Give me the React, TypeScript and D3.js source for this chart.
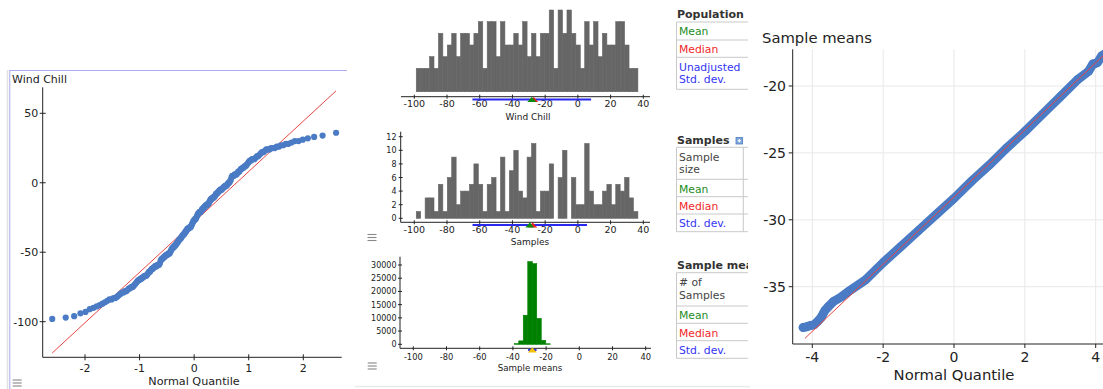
import React, { useEffect, useRef } from 'react';
import * as d3 from 'd3';

const windChill = [
  -98, -97, -96, -94, -93, -91, -90, -89, -88, -87, -86,
  -85, -84, -84, -83, -83, -82, -81, -80, -79, -79, -78, -78,
  -77, -76, -76, -75, -75, -74, -73, -72,
  -71, -70, -70, -69, -69, -68, -68, -67, -67, -67,
  -66, -65, -64, -64, -63, -62, -62, -61, -61,
  -60, -60, -60, -59, -59, -59, -58, -56,
  -55, -55, -54, -54, -53, -53, -52, -52, -52, -51, -51, -51,
  -50, -49, -48, -47, -47, -46, -46, -45, -45,
  -44, -43, -43, -42, -41, -41, -40, -40,
  -39, -38, -38, -37, -37, -36, -35, -35, -34,
  -33, -33, -33, -32, -32, -32, -31, -30, -29,
  -28, -27, -27, -26, -26, -25, -24, -23,
  -22, -22, -21, -21, -21, -20, -19, -19, -18, -18,
  -17, -17, -16, -16, -16, -15, -15, -14, -13,
  -12, -12, -11, -11, -11, -10, -10, -9, -8, -8, -7, -7,
  -6, -6, -5, -5, -5, -4, -4, -3, -3, -2, -2, -2,
  -1, 0, 0, 1, 2, 4, 5, 5, 5, 6, 6, 6,
  7, 8, 8, 9, 10, 10, 11, 11, 12, 12, 13, 14, 15,
  16, 16, 17, 17, 17, 18, 19, 19, 20, 21, 22, 22, 23,
  24, 24, 24, 25, 25, 25, 26, 26, 27, 27, 28, 28,
  29, 30, 30, 31, 32, 33, 34, 36
];

// bins shared by the three histograms
const BIN_START = -98.8;
const BIN_WIDTH = 2.71;
const BIN_COUNT = 50;

// one resample, counts per bin
const sampleCounts = [
  1, 0, 3, 3, 1, 5, 1, 6, 9, 2,
  4, 4, 5, 8, 5, 1, 5, 6, 1, 9,
  1, 7, 10, 4, 3, 9, 11, 1, 4, 4,
  8, 0, 6, 10, 0, 6, 2, 2, 11, 4,
  2, 2, 4, 5, 2, 5, 4, 6, 3, 1
];
const sampleMean = -29.4;
const sampleMedian = -27.6;
const sampleSD = 35.0;

// sample means, counts per bin
const meanCounts = [
  0, 0, 0, 0, 0, 0, 0, 0, 0, 0,
  0, 0, 0, 0, 0, 0, 0, 0, 0, 0,
  0, 0, 250, 1300, 11000, 31300, 30500, 9800, 1500, 200,
  0, 0, 0, 0, 0, 0, 0, 0, 0, 0,
  0, 0, 0, 0, 0, 0, 0, 0, 0, 0
];
const meansMean = -28.3;
const meansSD = 2.51;

// normal quantile plot of the sample means
const smQuantile = [-4.26, -4.17, -4.05, -3.95, -3.85, -3.75, -3.65, -3.55, -3.4, -3.2, -3.0, -2.5, -2.0, -1.5, -1.0, -0.5, 0, 0.5, 1.0, 1.5, 2.0, 2.5, 3.0, 3.5, 3.8, 3.92, 4.0, 4.05, 4.17, 4.26];
const smValue = [-38.05, -38.0, -37.9, -37.85, -37.6, -37.3, -36.8, -36.5, -36.1, -35.8, -35.4, -34.5, -33.2, -32.0, -30.8, -29.6, -28.4, -27.1, -25.9, -24.6, -23.4, -22.1, -20.8, -19.5, -18.9, -18.35, -18.3, -18.25, -17.75, -17.6];

const histTicks = [-100, -80, -60, -40, -20, 0, 20, 40];
const sampleYTicks = [0, 2, 4, 6, 8, 10, 12];
const meanYTicks = [0, 5000, 10000, 15000, 20000, 25000, 30000];
const leftXTicks = [-2, -1, 0, 1, 2];
const leftYTicks = [-100, -50, 0, 50];
const rightXTicks = [-4, -2, 0, 2, 4];
const rightYTicks = [-35, -30, -25, -20];

const FONT = '"DejaVu Sans", Verdana, sans-serif';
const BLUE_DOT = '#4a7bc4';

// inverse of the standard normal cdf (Acklam)
function qnorm(p: number) {
  const a = [-39.69683028665376, 220.9460984245205, -275.9285104469687, 138.3577518672690, -30.66479806614716, 2.506628277459239];
  const b = [-54.47609879822406, 161.5858368580409, -155.6989798598866, 66.80131188771972, -13.28068155833013];
  const c = [-0.007784894002430293, -0.3223964580411365, -2.400758277161838, -2.549732539343734, 4.374664141464968, 2.938163982698783];
  const d = [0.007784695709041462, 0.3224671290700398, 2.445134137142996, 3.754408661907416];
  const lo = 0.02425;
  if (p < lo) {
    const q = Math.sqrt(-2 * Math.log(p));
    return (((((c[0] * q + c[1]) * q + c[2]) * q + c[3]) * q + c[4]) * q + c[5]) / ((((d[0] * q + d[1]) * q + d[2]) * q + d[3]) * q + 1);
  }
  if (p > 1 - lo) return -qnorm(1 - p);
  const q = p - 0.5;
  const r = q * q;
  return (((((a[0] * r + a[1]) * r + a[2]) * r + a[3]) * r + a[4]) * r + a[5]) * q / (((((b[0] * r + b[1]) * r + b[2]) * r + b[3]) * r + b[4]) * r + 1);
}

const App = () => {
  const svgRef = useRef<SVGSVGElement>(null);

  useEffect(() => {
    const svg = d3.select(svgRef.current);
    svg.selectAll('*').remove();

    const edges = d3.range(1, BIN_COUNT).map(k => BIN_START + BIN_WIDTH * k);
    const binLo = (i: number) => BIN_START + BIN_WIDTH * i;
    const popBins = d3.bin().domain([BIN_START, BIN_START + BIN_WIDTH * BIN_COUNT]).thresholds(edges)(windChill);
    const popMean = d3.mean(windChill) as number;
    const popMedian = d3.median(windChill) as number;
    const popSD = Math.sqrt(d3.mean(windChill, v => (v - popMean) ** 2) as number);

    const txt = (g: any, x: number, y: number, s: string, size: number, opts: any = {}) =>
      g.append('text')
        .attr('x', x).attr('y', y)
        .attr('font-family', FONT)
        .attr('font-size', size)
        .attr('font-weight', opts.bold ? 'bold' : null)
        .attr('text-anchor', opts.anchor || 'start')
        .attr('fill', opts.fill || '#222')
        .text(s);

    const hline = (g: any, x1: number, x2: number, y: number, color = '#222', w = 1) =>
      g.append('line').attr('x1', x1).attr('x2', x2).attr('y1', y).attr('y2', y).attr('stroke', color).attr('stroke-width', w);
    const vline = (g: any, x: number, y1: number, y2: number, color = '#222', w = 1) =>
      g.append('line').attr('x1', x).attr('x2', x).attr('y1', y1).attr('y2', y2).attr('stroke', color).attr('stroke-width', w);

    const burger = (x: number, y: number) => {
      for (let i = 0; i < 3; i++) hline(svg, x, x + 9, y + i * 3, '#888', 1.1);
    };

    // ---------- left panel: wind chill normal quantile plot ----------
    const left = svg.append('g');
    vline(left, 7.5, 70, 389, '#e2e2e2', 1.5);
    vline(left, 9.8, 70, 389, '#aaaaee', 1);
    hline(left, 9.8, 347, 70.5, '#aaaaee', 1);
    txt(left, 12, 82.5, 'Wind Chill', 11);

    const xL = d3.scaleLinear().domain([-2, 2]).range([85, 303.3]);
    const yL = d3.scaleLinear().domain([-100, 50]).range([321.7, 113.3]);
    const axL = { x0: 42.7, x1: 341.7, y0: 87.3, y1: 357.3 };

    const n = windChill.length;
    const sorted = windChill.slice().sort((a, b) => a - b);
    const qq = sorted.map((v, i) => ({ q: qnorm((i + 1) / (n + 1)), v }));

    left.append('line')
      .attr('x1', xL(qq[0].q)).attr('y1', yL(popMean + popSD * qq[0].q))
      .attr('x2', xL(qq[n - 1].q)).attr('y2', yL(popMean + popSD * qq[n - 1].q))
      .attr('stroke', '#e84545').attr('stroke-width', 1);

    left.selectAll('.pt').data(qq).enter().append('circle')
      .attr('cx', d => xL(d.q)).attr('cy', d => yL(d.v)).attr('r', 3.1)
      .attr('fill', BLUE_DOT);

    vline(left, axL.x0, axL.y0, axL.y1);
    hline(left, axL.x0, axL.x1, axL.y1);
    leftYTicks.forEach(t => {
      hline(left, axL.x0 - 3, axL.x0 + 3, yL(t));
      txt(left, 38.3, yL(t) + 4, String(t), 11, { anchor: 'end' });
    });
    leftXTicks.forEach(t => {
      vline(left, xL(t), axL.y1 - 3, axL.y1 + 3);
      txt(left, xL(t), 371.5, String(t), 11, { anchor: 'middle' });
    });
    txt(left, 194, 385, 'Normal Quantile', 11.2, { anchor: 'middle' });
    burger(12.7, 380);

    // ---------- middle: three histograms ----------
    const histAxis = (g: any, x: any, y: number, xa: number, xb: number, labelY: number, size: number) => {
      hline(g, xa, xb, y);
      histTicks.forEach(t => {
        vline(g, x(t), y - 2, y + 2);
        txt(g, x(t), labelY, String(t), size, { anchor: 'middle' });
      });
    };
    const markers = (g: any, x: any, y: number, mean: number, median: number | null, sd: number, meanColor: string) => {
      g.append('rect')
        .attr('x', x(mean - sd)).attr('width', x(mean + sd) - x(mean - sd))
        .attr('y', y - 1).attr('height', 2).attr('fill', '#2a2aee');
      const tri = (cx: number, color: string) =>
        g.append('path')
          .attr('d', `M${cx - 4.5},${y + 2.5}L${cx},${y - 2.5}L${cx + 4.5},${y + 2.5}Z`)
          .attr('fill', color);
      if (median !== null) tri(x(median), '#e82020');
      tri(x(mean), meanColor);
    };
    const bars = (sel: any, fill: string) =>
      sel.attr('fill', fill).attr('stroke', fill).attr('stroke-width', 0.6);

    // population histogram
    const mid = svg.append('g');
    const xTop = d3.scaleLinear().domain([-100, 40]).range([414.3, 643.3]);
    const yTop = d3.scaleLinear().domain([0, 7]).range([91.7, 10]);
    bars(mid.selectAll('.pop').data(popBins.filter(b => b.length > 0)).enter().append('rect')
      .attr('x', (d: any) => xTop(d.x0)).attr('width', (d: any) => xTop(d.x1) - xTop(d.x0))
      .attr('y', (d: any) => yTop(d.length)).attr('height', (d: any) => yTop(0) - yTop(d.length)), '#666');
    histAxis(mid, xTop, 96.7, 401, 650, 107.3, 9.5);
    markers(mid, xTop, 99.5, popMean, popMedian, popSD, '#0a8a0a');
    txt(mid, 528, 120, 'Wind Chill', 9, { anchor: 'middle' });

    // one sample histogram
    const xS = d3.scaleLinear().domain([-100, 40]).range([414.3, 643.3]);
    const yS = d3.scaleLinear().domain([0, 12]).range([218.3, 136.7]);
    const sIdx = sampleCounts.map((c, i) => i).filter(i => sampleCounts[i] > 0);
    bars(mid.selectAll('.smp').data(sIdx).enter().append('rect')
      .attr('x', (i: number) => xS(binLo(i))).attr('width', (i: number) => xS(binLo(i + 1)) - xS(binLo(i)))
      .attr('y', (i: number) => yS(sampleCounts[i])).attr('height', (i: number) => yS(0) - yS(sampleCounts[i])), '#666');
    histAxis(mid, xS, 222.3, 400.7, 650, 233.3, 9.5);
    vline(mid, 400.7, 131.7, 222.3);
    sampleYTicks.forEach(t => {
      hline(mid, 398.7, 402.7, yS(t));
      txt(mid, 396.5, yS(t) + 3, String(t), 8, { anchor: 'end' });
    });
    markers(mid, xS, 225, sampleMean, sampleMedian, sampleSD, '#0a8a0a');
    txt(mid, 530, 245, 'Samples', 9, { anchor: 'middle' });
    burger(367.5, 234.5);

    // sample means histogram
    const xB = d3.scaleLinear().domain([-100, 40]).range([413.3, 645.7]);
    const yB = d3.scaleLinear().domain([0, 30000]).range([344.3, 265]);
    const mIdx = meanCounts.map((c, i) => i).filter(i => meanCounts[i] > 0);
    bars(mid.selectAll('.mns').data(mIdx).enter().append('rect')
      .attr('x', (i: number) => xB(binLo(i))).attr('width', (i: number) => xB(binLo(i + 1)) - xB(binLo(i)))
      .attr('y', (i: number) => yB(meanCounts[i])).attr('height', (i: number) => yB(0) - yB(meanCounts[i])), '#008000');
    histAxis(mid, xB, 348.3, 400, 651, 360, 8.3);
    vline(mid, 400, 256.7, 348.3);
    meanYTicks.forEach(t => {
      hline(mid, 398, 402, yB(t));
      txt(mid, 396.5, yB(t) + 3, String(t), 8, { anchor: 'end' });
    });
    markers(mid, xB, 350, meansMean, null, meansSD, '#f2c200');
    txt(mid, 530, 370.7, 'Sample means', 8.7, { anchor: 'middle' });
    burger(367.7, 363);
    hline(mid, 355, 750, 386.7, '#e4e4e4', 1);

    // ---------- summary tables ----------
    svg.append('clipPath').attr('id', 'tabclip')
      .append('rect').attr('x', 660).attr('y', 0).attr('width', 88).attr('height', 389);
    const tab = svg.append('g').attr('clip-path', 'url(#tabclip)');
    const GRID = '#c9c9c9';
    const table = (titleY: number, title: string, rows: { lines: string[]; color: string }[], tops: number[], split: boolean) => {
      txt(tab, 677, titleY, title, 11, { bold: true, fill: '#333' });
      const bottom = tops[tops.length - 1];
      vline(tab, 676.5, tops[0], bottom, GRID);
      tops.forEach(t => hline(tab, 676.5, 760, t, GRID));
      if (split) vline(tab, 743.3, tops[0], bottom, GRID);
      rows.forEach((r, i) => {
        r.lines.forEach((s, j) => txt(tab, 679, tops[i] + 13.4 + j * 12.6, s, 10.8, { fill: r.color }));
      });
    };
    const GREEN = '#1e8c1e';
    const RED = '#f02828';
    const BLUE = '#3434f4';
    table(18.3, 'Population', [
      { lines: ['Mean'], color: GREEN },
      { lines: ['Median'], color: RED },
      { lines: ['Unadjusted', 'Std. dev.'], color: BLUE }
    ], [22, 40, 57.3, 89.3], false);
    table(144, 'Samples', [
      { lines: ['Sample', 'size'], color: '#444' },
      { lines: ['Mean'], color: GREEN },
      { lines: ['Median'], color: RED },
      { lines: ['Std. dev.'], color: BLUE }
    ], [147.3, 179.3, 196.7, 214, 231.7], true);
    tab.append('rect').attr('x', 736).attr('y', 137.5).attr('width', 6.5).attr('height', 6.5)
      .attr('fill', '#7ea6dc').attr('stroke', '#4d7cc0').attr('stroke-width', 0.8);
    hline(tab, 737.5, 741, 140.75, '#fff', 1);
    vline(tab, 739.25, 139, 142.5, '#fff', 1);
    table(269.3, 'Sample means', [
      { lines: ['# of', 'Samples'], color: '#444' },
      { lines: ['Mean'], color: GREEN },
      { lines: ['Median'], color: RED },
      { lines: ['Std. dev.'], color: BLUE }
    ], [272.7, 306, 323.3, 340.7, 358.3], false);

    // ---------- right panel: sample means normal quantile plot ----------
    const right = svg.append('g');
    const xR = d3.scaleLinear().domain([-4, 4]).range([812.3, 1095.7]);
    const yR = d3.scaleLinear().domain([-35, -20]).range([286.7, 86]);
    const axR = { x0: 792.7, x1: 1103, y0: 49.3, y1: 344 };
    rightXTicks.forEach(t => vline(right, xR(t), axR.y0, axR.y1, '#e8e8e8'));
    rightYTicks.forEach(t => hline(right, axR.x0, axR.x1, yR(t), '#e8e8e8'));

    const band = d3.line<number>().x(q => xR(q)).y((q, i) => yR(smValue[i]));
    right.append('path').attr('d', band(smQuantile))
      .attr('fill', 'none').attr('stroke', BLUE_DOT).attr('stroke-width', 9)
      .attr('stroke-linecap', 'round').attr('stroke-linejoin', 'round');
    right.selectAll('.sm').data(smQuantile).enter().append('circle')
      .attr('cx', q => xR(q)).attr('cy', (q, i) => yR(smValue[i])).attr('r', 4.2)
      .attr('fill', BLUE_DOT);
    right.append('line')
      .attr('x1', xR(-4.21)).attr('y1', yR(meansMean + meansSD * -4.21))
      .attr('x2', xR(4.4)).attr('y2', yR(meansMean + meansSD * 4.4))
      .attr('stroke', '#e84545').attr('stroke-width', 1);

    vline(right, axR.x0, axR.y0, axR.y1);
    hline(right, axR.x0, axR.x1, axR.y1);
    rightYTicks.forEach(t => {
      hline(right, axR.x0 - 4, axR.x0, yR(t));
      txt(right, 786, yR(t) + 5, String(t), 14, { anchor: 'end' });
    });
    rightXTicks.forEach(t => {
      vline(right, xR(t), axR.y1, axR.y1 + 4);
      txt(right, xR(t), 361.5, String(t), 14, { anchor: 'middle' });
    });
    txt(right, 762, 43.3, 'Sample means', 14.8);
    txt(right, 954, 380, 'Normal Quantile', 14.8, { anchor: 'middle' });
  }, []);

  return (
    <svg
      ref={svgRef}
      width={1103}
      height={389}
      style={{ position: 'absolute', left: 0, top: 0, background: '#fff', display: 'block' }}
    />
  );
};

export default App;
